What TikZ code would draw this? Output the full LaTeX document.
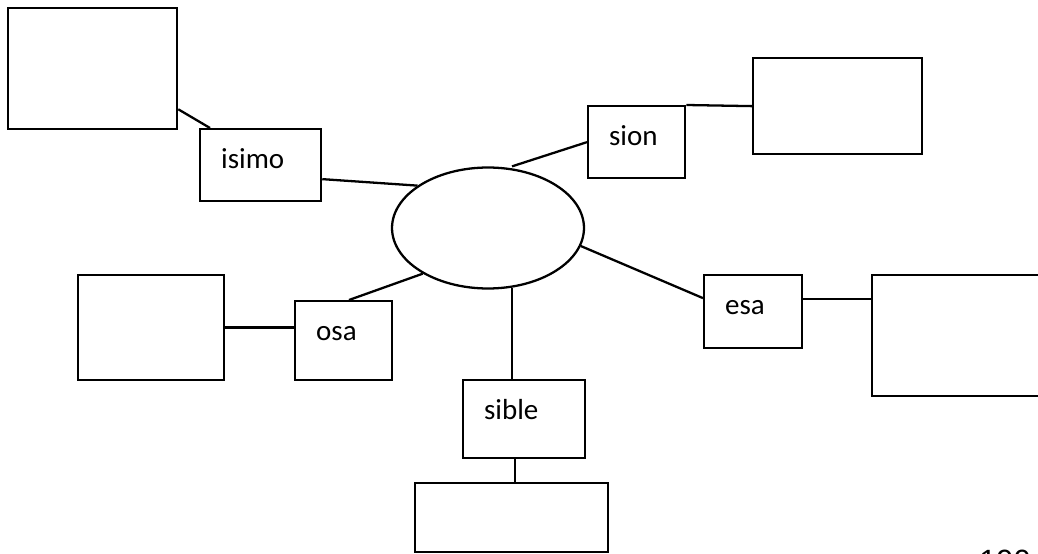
\documentclass[tikz,border=0pt]{standalone}
\usepackage{fontspec}
\setmainfont{Carlito}
\newfontfamily\pagefont{Liberation Sans}
\usepackage{tikz}
\usetikzlibrary{shapes.geometric, positioning, calc}
\tikzstyle{link} = [line width=1.3pt, black]
\tikzstyle{blank} = [rectangle, draw=black, line width=1.3pt, anchor=north west, inner sep=0pt]

\begin{document}
\begin{tikzpicture}[
    x=0.02cm, y=-0.02cm,
    wordbox/.style 2 args={
        rectangle,
        draw=black,
        line width=1.3pt,
        anchor=north west,
        inner xsep=0.42cm,
        inner ysep=0pt,
        align=left,
        font=\fontsize{16.5}{18}\selectfont,
        text height=0.78cm,
        text width=#1,
        text depth=#2
    }
]
    \useasboundingbox (0,0) rectangle (1038,554);
    \clip (0,0) rectangle (1038,554);

    % centre
    \node[ellipse, draw=black, line width=1.3pt, minimum width=3.84cm, minimum height=2.42cm] (hub) at (488,228) {};

    % word boxes
    \node[wordbox={1.58cm}{0.66cm}] (isimo) at (199,128) {isimo};
    \node[wordbox={1.10cm}{0.66cm}] (sion) at (587,105) {sion};
    \node[wordbox={1.12cm}{0.68cm}] (esa) at (703,274) {esa};
    \node[wordbox={1.10cm}{0.80cm}] (osa) at (294,300) {osa};
    \node[wordbox={1.60cm}{0.78cm}] (sible) at (462,379) {sible};

    % empty boxes
    \node[blank, minimum width=3.38cm, minimum height=2.42cm] (tlbox) at (7,7) {};
    \node[blank, minimum width=3.38cm, minimum height=1.92cm] (trbox) at (752,57) {};
    \node[blank, minimum width=3.58cm, minimum height=2.42cm] (rbox) at (871,274) {};
    \node[blank, minimum width=2.92cm, minimum height=2.10cm] (lbox) at (77,274) {};
    \node[blank, minimum width=3.86cm, minimum height=1.38cm] (bbox) at (414,482) {};

    \node[anchor=base west, inner sep=0pt, font=\pagefont\fontsize{17.5}{20}\selectfont] (pagenum) at (979,571) {190};

    % connectors
    \draw[link] ([yshift=0.42cm]tlbox.south east) -- ([xshift=0.22cm]isimo.north west);
    \draw[link] ([yshift=-0.28cm]isimo.east) -- (hub.149);
    \draw[link] ([xshift=0.48cm]hub.north) -- (sion.west);
    \draw[link] (sion.north east) -- (trbox.west);
    \draw[link] (hub.-11) -- ([yshift=0.27cm]esa.west);
    \draw[link] ([yshift=0.25cm]esa.east) -- ([yshift=0.25cm]esa.east -| rbox.west);
    \draw[link] (hub.215) -- ([xshift=1.1cm]osa.north west);
    \draw[link] (lbox.east) -- (lbox.east -| osa.west);
    \draw[link] (hub.-68) -- (hub.-68 |- sible.north);
    \draw[link] ([xshift=-0.18cm]sible.south) -- ([xshift=-0.18cm]sible.south |- bbox.north);
\end{tikzpicture}
\end{document}
